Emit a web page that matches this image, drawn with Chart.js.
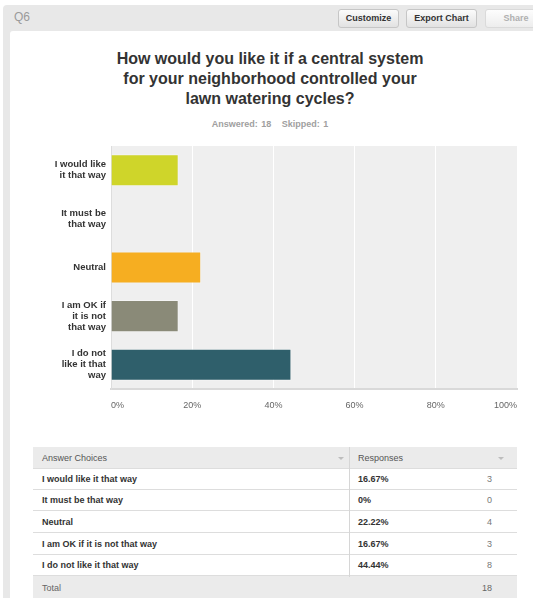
<!DOCTYPE html>
<html>
<head>
<meta charset="utf-8">
<script src="https://cdn.jsdelivr.net/npm/chart.js@4.4.0/dist/chart.umd.min.js"></script>
<style>
  body { margin: 0; width: 533px; height: 598px; overflow: hidden; background: #fff; font-family: Arial, "Liberation Sans", sans-serif; position: relative; }
  .frame { position: absolute; left: 3px; top: 5px; right: -10px; bottom: -10px; background: #e8e8e8; border-radius: 4px; }
  .panel { position: absolute; left: 10px; top: 31px; right: -10px; bottom: -10px; background: #fff; border-radius: 3px; }
  .qnum { position: absolute; left: 14px; top: 10px; font-size: 12px; line-height: 14px; color: #9a9a9a; }
  .btn { position: absolute; top: 9px; height: 17px; line-height: 17px; border: 1px solid #c6c6c6; border-radius: 3px;
         background: linear-gradient(#fbfbfb, #e2e2e2); font-size: 9px; font-weight: bold; color: #333; text-align: center; }
  .btn.off { color: #b0b0b0; border-color: #dadada; background: linear-gradient(#fdfdfd, #ededed); }
  .title { position: absolute; left: 0; width: 540px; top: 49px; text-align: center; font-size: 16px; line-height: 20px; font-weight: bold; color: #333; }
  .sub { position: absolute; left: 0; width: 540px; top: 118px; text-align: center; font-size: 9px; line-height: 12px; font-weight: bold; color: #a0a0a0; word-spacing: 1px; }
  .chart-wrap { position: absolute; left: 0; top: 140px; width: 533px; height: 280px; }
  .tbl { position: absolute; left: 33px; top: 447px; width: 484px; height: 151px; font-size: 9px; }
  .row { position: absolute; left: 0; width: 484px; border-bottom: 1px solid #dddddd; box-sizing: border-box; }
  .row span { position: absolute; top: 0; }
  .head { background: #ebebeb; color: #555; }
  .total { background: #ebebeb; color: #666; border-bottom: none; }
  .body { color: #333; font-weight: bold; }
  .body span.num { font-weight: normal; color: #777; }
  .divider { position: absolute; left: 316px; top: 0; width: 1px; height: 130px; background: #d6d6d6; }
  .arrow { position: absolute; width: 0; height: 0; border-left: 3px solid transparent; border-right: 3px solid transparent; border-top: 3px solid #bdbdbd; }
</style>
</head>
<body>
<div class="frame"></div>
<div class="panel"></div>
<div class="qnum">Q6</div>
<div class="btn" style="left:338px;width:59px;">Customize</div>
<div class="btn" style="left:406px;width:69px;">Export Chart</div>
<div class="btn off" style="left:485px;width:60px;">Share</div>
<div class="title">How would you like it if a central system<br>for your neighborhood controlled your<br>lawn watering cycles?</div>
<div class="sub">Answered: 18 &nbsp;&nbsp;Skipped: 1</div>
<div class="chart-wrap"><canvas id="surveyChart"></canvas></div>
<div class="tbl" id="answerTable"></div>

<script>
// Survey data
const categories = ['I would like it that way', 'It must be that way', 'Neutral', 'I am OK if it is not that way', 'I do not like it that way'];
const percents = [16.67, 0, 22.22, 16.67, 44.44];
const counts = [3, 0, 4, 3, 8];
const totalCount = 18;
const barColors = ['#cfd52a', '#5b9bd5', '#f6ae21', '#8a8a78', '#2f5f6b'];

// wrap long labels into short lines for the axis
function wrapLabel(text, maxLen) {
    const lines = [];
    let line = '';
    text.split(' ').forEach(word => {
        const next = line ? line + ' ' + word : word;
        if (next.length > maxLen && line) {
            lines.push(line);
            line = word;
        } else {
            line = next;
        }
    });
    lines.push(line);
    return lines;
}

// grey plot background
const plotBg = {
    id: 'plotBg',
    beforeDraw(chart) {
        const a = chart.chartArea;
        const ctx = chart.ctx;
        ctx.save();
        ctx.fillStyle = '#efefef';
        ctx.fillRect(a.left, a.top, a.right - a.left, a.bottom - a.top);
        ctx.restore();
    }
};

new Chart(document.getElementById('surveyChart'), {
    type: 'bar',
    data: {
        labels: categories.map(c => wrapLabel(c, 12)),
        datasets: [{
            data: percents,
            backgroundColor: barColors,
            borderColor: 'rgba(255, 255, 255, 0.35)',
            borderWidth: 1,
            categoryPercentage: 1,
            barPercentage: 0.66
        }]
    },
    options: {
        indexAxis: 'y',
        responsive: true,
        maintainAspectRatio: false,
        animation: false,
        layout: { padding: { top: 6, right: 16, bottom: 0, left: 0 } },
        plugins: {
            legend: { display: false },
            tooltip: { enabled: false }
        },
        scales: {
            x: {
                min: 0,
                max: 100,
                ticks: {
                    stepSize: 20,
                    align: 'inner',
                    padding: 11,
                    color: '#666',
                    font: { family: 'Arial, "Liberation Sans"', size: 9 },
                    callback: v => v + '%'
                },
                grid: {
                    drawTicks: false,
                    color: ctx => (ctx.tick && (ctx.tick.value === 0 || ctx.tick.value === 100)) ? 'rgba(0,0,0,0)' : '#ffffff',
                    lineWidth: 1
                },
                border: { color: '#d9d9d9', width: 2 },
                afterFit: scale => { scale.height = 31; }
            },
            y: {
                ticks: {
                    padding: 5,
                    color: '#333',
                    font: { family: 'Arial, "Liberation Sans"', size: 9.5, weight: 'bold', lineHeight: 1.15 }
                },
                grid: { display: false, drawTicks: false },
                border: { color: '#dddddd', width: 1 },
                afterFit: scale => {
                    scale.width = 111;
                    scale.paddingTop = 0;
                    scale.paddingBottom = 0;
                }
            }
        }
    },
    plugins: [plotBg]
});

// Answer table under the chart
const table = document.getElementById('answerTable');
function addRow(cls, top, height, cells) {
    const row = document.createElement('div');
    row.className = 'row ' + cls;
    row.style.top = top + 'px';
    row.style.height = height + 'px';
    cells.forEach(c => {
        const s = document.createElement('span');
        s.textContent = c.text;
        s.style.lineHeight = height + 'px';
        if (c.cls) s.className = c.cls;
        if (c.left !== undefined) s.style.left = c.left + 'px';
        if (c.right !== undefined) s.style.right = c.right + 'px';
        row.appendChild(s);
    });
    table.appendChild(row);
}

addRow('head', 0, 22, [{ text: 'Answer Choices', left: 9 }, { text: 'Responses', left: 325 }]);
const rowH = 21.67;
categories.forEach((c, i) => {
    const top = Math.round(21 + i * rowH);
    const bottom = Math.round(21 + (i + 1) * rowH);
    addRow('body', top, bottom - top, [
        { text: c, left: 9 },
        { text: percents[i] + '%', left: 325 },
        { text: String(counts[i]), right: 25, cls: 'num' }
    ]);
});
addRow('total', Math.round(21 + categories.length * rowH), 24, [{ text: 'Total', left: 9 }, { text: String(totalCount), right: 25 }]);

const divider = document.createElement('div');
divider.className = 'divider';
table.appendChild(divider);
[{ left: 305, top: 10 }, { left: 465, top: 10 }].forEach(p => {
    const a = document.createElement('div');
    a.className = 'arrow';
    a.style.left = p.left + 'px';
    a.style.top = p.top + 'px';
    table.appendChild(a);
});
</script>
</body>
</html>
